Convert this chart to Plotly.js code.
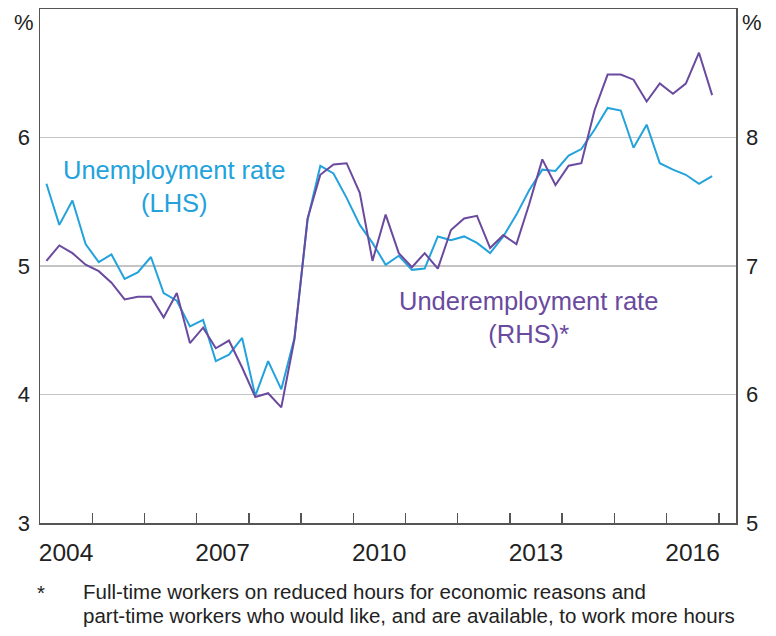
<!DOCTYPE html>
<html><head><meta charset="utf-8">
<script src="https://cdn.plot.ly/plotly-3.0.1.min.js"></script>
<style>html,body{margin:0;padding:0;background:#fff}#chart{width:776px;height:636px}</style>
</head><body><div id="chart"></div>
<script>
const quarters = [
 '2004-02-15','2004-05-15','2004-08-15','2004-11-15',
 '2005-02-15','2005-05-15','2005-08-15','2005-11-15',
 '2006-02-15','2006-05-15','2006-08-15','2006-11-15',
 '2007-02-15','2007-05-15','2007-08-15','2007-11-15',
 '2008-02-15','2008-05-15','2008-08-15','2008-11-15',
 '2009-02-15','2009-05-15','2009-08-15','2009-11-15',
 '2010-02-15','2010-05-15','2010-08-15','2010-11-15',
 '2011-02-15','2011-05-15','2011-08-15','2011-11-15',
 '2012-02-15','2012-05-15','2012-08-15','2012-11-15',
 '2013-02-15','2013-05-15','2013-08-15','2013-11-15',
 '2014-02-15','2014-05-15','2014-08-15','2014-11-15',
 '2015-02-15','2015-05-15','2015-08-15','2015-11-15',
 '2016-02-15','2016-05-15','2016-08-15','2016-11-15'
];
const unemployment = [
 5.64,5.32,5.51,5.17, 5.03,5.09,4.90,4.95, 5.07,4.79,4.73,4.53,
 4.58,4.26,4.31,4.44, 3.99,4.26,4.04,4.44, 5.36,5.78,5.72,5.53,
 5.32,5.18,5.01,5.08, 4.97,4.98,5.23,5.20, 5.23,5.18,5.10,5.23,
 5.40,5.59,5.75,5.74, 5.86,5.91,6.06,6.23, 6.21,5.92,6.10,5.80,
 5.75,5.71,5.64,5.70
];
const underemployment = [
 7.04,7.16,7.10,7.01, 6.96,6.87,6.74,6.76, 6.76,6.60,6.79,6.40,
 6.52,6.36,6.42,6.21, 5.98,6.01,5.90,6.43, 7.37,7.71,7.79,7.80,
 7.57,7.04,7.40,7.10, 6.99,7.10,6.98,7.28, 7.37,7.39,7.14,7.24,
 7.17,7.48,7.83,7.63, 7.78,7.80,8.21,8.49, 8.49,8.45,8.28,8.42,
 8.34,8.42,8.66,8.33
];
const yearTicks = ['2005-01-01','2006-01-01','2007-01-01','2008-01-01','2009-01-01','2010-01-01',
 '2011-01-01','2012-01-01','2013-01-01','2014-01-01','2015-01-01','2016-01-01','2017-01-01'];
const labelTicks = ['2004-07-01','2007-07-01','2010-07-01','2013-07-01','2016-07-01'];
const labelText = ['2004','2007','2010','2013','2016'];
const leftTicks = [3,4,5,6];
const rightTicks = [5,6,7,8];
const footnoteLines = [
 'Full-time workers on reduced hours for economic reasons and',
 'part-time workers who would like, and are available, to work more hours'
];

const BLUE = '#23a2dc';
const PURPLE = '#6a4a9e';
const AXIS = '#555555';
const FONT = 'Liberation Sans, Arial, sans-serif';

const traces = [
 {x: quarters, y: unemployment, type: 'scatter', mode: 'lines', yaxis: 'y',
  line: {color: BLUE, width: 2}, hoverinfo: 'skip'},
 {x: quarters, y: underemployment, type: 'scatter', mode: 'lines', yaxis: 'y2',
  line: {color: PURPLE, width: 2}, hoverinfo: 'skip'}
];

const px = v => (v - 40) / 696;
const py = v => (523 - v) / 514;

const layout = {
 width: 776, height: 636,
 margin: {l: 40, r: 40, t: 9, b: 113},
 paper_bgcolor: '#fff', plot_bgcolor: '#fff',
 showlegend: false,
 font: {family: FONT, color: '#222', size: 22},
 xaxis: {
  type: 'date', range: ['2004-01-01', '2017-05-01'],
  tickmode: 'array', tickvals: labelTicks, ticktext: labelText,
  ticks: '', showgrid: false, zeroline: false,
  showline: true, linecolor: AXIS, linewidth: 1.5, mirror: true,
  ticklabelstandoff: 7,
  tickfont: {family: FONT, size: 24.5, color: '#222'},
  minor: {tickmode: 'array', tickvals: yearTicks, ticks: 'inside', ticklen: 10,
          tickcolor: AXIS, tickwidth: 1.5, showgrid: false}
 },
 yaxis: {
  range: [3, 7], tickmode: 'array', tickvals: leftTicks,
  showgrid: true, gridcolor: '#c4c4c4', gridwidth: 1.5, zeroline: false,
  showline: true, linecolor: AXIS, linewidth: 1.5, ticks: '',
  ticklabelstandoff: 4,
  tickfont: {family: FONT, size: 22, color: '#222'}
 },
 yaxis2: {
  range: [5, 9], overlaying: 'y', side: 'right', tickmode: 'array', tickvals: rightTicks,
  showgrid: false, zeroline: false,
  showline: true, linecolor: AXIS, linewidth: 1.5, ticks: '',
  ticklabelstandoff: 4,
  tickfont: {family: FONT, size: 22, color: '#222'}
 },
 annotations: [
  {xref: 'paper', yref: 'paper', x: px(24), y: py(22), text: '%', showarrow: false,
   font: {family: FONT, size: 22, color: '#222'}, xanchor: 'center', yanchor: 'middle'},
  {xref: 'paper', yref: 'paper', x: px(752), y: py(22), text: '%', showarrow: false,
   font: {family: FONT, size: 22, color: '#222'}, xanchor: 'center', yanchor: 'middle'},
  {xref: 'paper', yref: 'paper', x: px(174), y: py(186),
   text: 'Unemployment rate<br>(LHS)', showarrow: false, align: 'center',
   font: {family: FONT, size: 25.5, color: BLUE}, xanchor: 'center', yanchor: 'middle'},
  {xref: 'paper', yref: 'paper', x: px(528), y: py(317),
   text: 'Underemployment rate<br>(RHS)*', showarrow: false, align: 'center',
   font: {family: FONT, size: 25.5, color: PURPLE}, xanchor: 'center', yanchor: 'middle'},
  {xref: 'paper', yref: 'paper', x: px(41), y: py(592), text: '*', showarrow: false,
   font: {family: FONT, size: 20.5, color: '#222'}, xanchor: 'center', yanchor: 'middle'},
  {xref: 'paper', yref: 'paper', x: px(81), y: py(591), text: footnoteLines[0],
   showarrow: false, align: 'left',
   font: {family: FONT, size: 20.5, color: '#222'}, xanchor: 'left', yanchor: 'middle'},
  {xref: 'paper', yref: 'paper', x: px(81), y: py(615), text: footnoteLines[1],
   showarrow: false, align: 'left',
   font: {family: FONT, size: 20.5, color: '#222'}, xanchor: 'left', yanchor: 'middle'}
 ]
};

Plotly.newPlot('chart', traces, layout, {displayModeBar: false, staticPlot: true});
</script>
</body></html>
